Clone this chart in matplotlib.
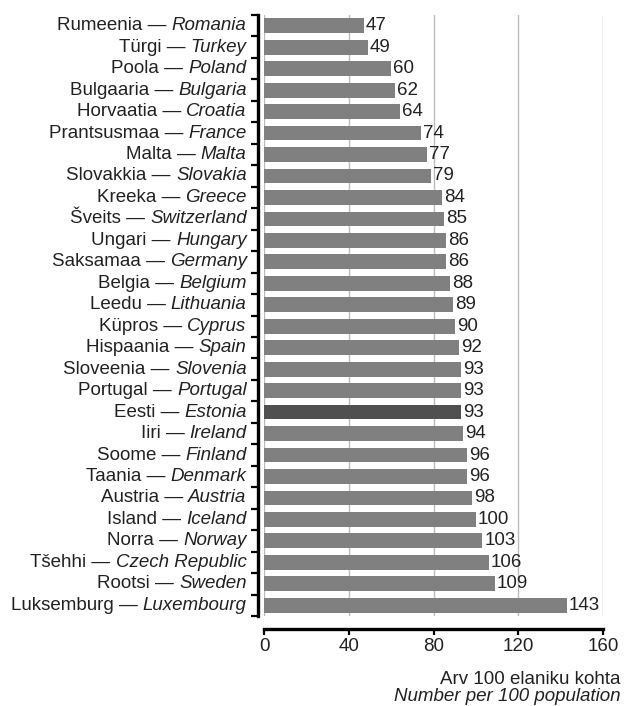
import matplotlib
matplotlib.use('Agg')
import matplotlib.pyplot as plt
from matplotlib.transforms import blended_transform_factory
import numpy as np

plt.rcParams['font.family'] = ['Liberation Sans', 'DejaVu Sans']
plt.rcParams['font.size'] = 13.5

# Countries, top to bottom
names_et = ['Rumeenia', 'Türgi', 'Poola', 'Bulgaaria', 'Horvaatia', 'Prantsusmaa',
            'Malta', 'Slovakkia', 'Kreeka', 'Šveits', 'Ungari', 'Saksamaa', 'Belgia',
            'Leedu', 'Küpros', 'Hispaania', 'Sloveenia', 'Portugal', 'Eesti', 'Iiri',
            'Soome', 'Taania', 'Austria', 'Island', 'Norra', 'Tšehhi', 'Rootsi',
            'Luksemburg']
names_en = ['Romania', 'Turkey', 'Poland', 'Bulgaria', 'Croatia', 'France',
            'Malta', 'Slovakia', 'Greece', 'Switzerland', 'Hungary', 'Germany', 'Belgium',
            'Lithuania', 'Cyprus', 'Spain', 'Slovenia', 'Portugal', 'Estonia', 'Ireland',
            'Finland', 'Denmark', 'Austria', 'Iceland', 'Norway', 'Czech Republic', 'Sweden',
            'Luxembourg']
values = [47, 49, 60, 62, 64, 74, 77, 79, 84, 85, 86, 86, 88, 89, 90, 92, 93, 93,
          93, 94, 96, 96, 98, 100, 103, 106, 109, 143]
highlight = 'Estonia'

xticks = [0, 40, 80, 120, 160]

fig = plt.figure(figsize=(6.25, 7.06), dpi=100)
W, H = 625., 706.
ax = fig.add_axes([264/W, 1 - 616/H, (603-264)/W, (616-15)/H])

n = len(values)
ypos = np.arange(n)
colors = ['#505050' if e == highlight else '#808080' for e in names_en]
ax.barh(ypos, values, height=0.69, color=colors, zorder=2)
ax.set_ylim(n - 0.5, -0.5)
ax.set_xlim(0, 160)

# value labels
for y, v in zip(ypos, values):
    ax.annotate(str(v), xy=(v, y), xytext=(1.5, 0), textcoords='offset points',
                ha='left', va='center', color='#222222')

# vertical grid, not clipped so the 160 line shows in full
ax.set_xticks(xticks)
ax.xaxis.grid(True, color='#bcbcbc', linewidth=1.0, zorder=0)
for gl in ax.get_xgridlines():
    gl.set_clip_on(False)
ax.set_axisbelow(True)

# spines
for s in ['top', 'right']:
    ax.spines[s].set_visible(False)
ax.spines['left'].set_position(('outward', 4))
ax.spines['left'].set_linewidth(2.4)
ax.spines['bottom'].set_position(('outward', 9))
ax.spines['bottom'].set_linewidth(2.4)

ax.set_yticks(np.arange(-0.5, n, 1.0))
ax.set_yticklabels([])
ax.tick_params(axis='y', direction='out', length=5, width=1.6, color='black')
ax.tick_params(axis='x', direction='out', length=4, width=1.6, pad=3,
               labelsize=13.5, labelcolor='#222222')

# country labels: Estonian name — English name (italic)
fig.canvas.draw()
tr = blended_transform_factory(ax.transAxes, ax.transData)
for y, et, en in zip(ypos, names_et, names_en):
    t_en = ax.annotate(en, xy=(0, y), xycoords=tr, xytext=(-12.5, 0),
                       textcoords='offset points', ha='right', va='center',
                       style='italic', color='#222222', annotation_clip=False)
    ax.annotate(et + ' \u2014 ', xy=(0, 0), xycoords=t_en, ha='right', va='bottom',
                color='#222222', annotation_clip=False)

fig.text(621/W, 1 - 684/H, 'Arv 100 elaniku kohta', ha='right', va='baseline',
         fontsize=13.5, color='#222222')
fig.text(621/W, 1 - 701/H, 'Number per 100 population', ha='right', va='baseline',
         fontsize=13.5, style='italic', color='#222222')

fig.savefig('out.png', dpi=100)
